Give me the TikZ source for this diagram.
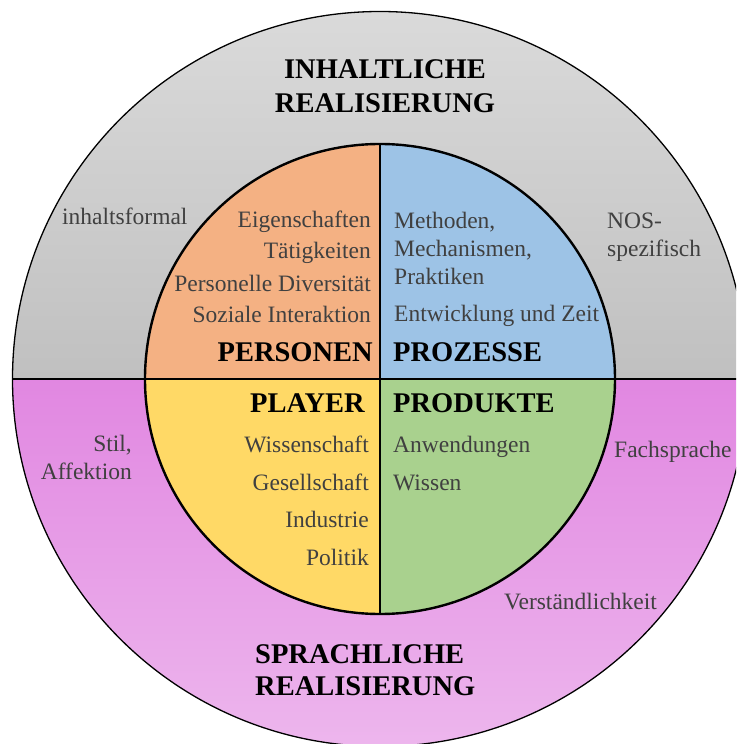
\documentclass[tikz,border=0pt]{standalone}
\usepackage{fontspec}
\setmainfont{Liberation Serif}
\usepackage{xcolor}
\definecolor{greytop}{RGB}{218, 218, 218}
\definecolor{greymid}{RGB}{192, 192, 192}
\definecolor{pinkmid}{RGB}{225, 135, 225}
\definecolor{pinkbot}{RGB}{237, 182, 237}
\definecolor{persfill}{RGB}{244, 177, 131}
\definecolor{prozfill}{RGB}{157, 195, 230}
\definecolor{playfill}{RGB}{255, 217, 102}
\definecolor{prodfill}{RGB}{169, 209, 142}
\definecolor{itemgrey}{RGB}{64, 64, 64}
\usetikzlibrary{positioning}
\tikzset{
  ringtitle/.style={font=\fontsize{28.5}{34}\selectfont\bfseries,
    text=black, inner sep=0pt},
  quadtitle/.style={font=\fontsize{28.5}{33}\selectfont\bfseries,
    text=black, inner sep=0pt},
  itemtext/.style={font=\fontsize{23.5}{28}\selectfont,
    text=itemgrey, inner sep=0pt},
  divline/.style={line width=2.4pt, black},
  ringline/.style={line width=1.3pt, black}
}

\begin{document}
\begin{tikzpicture}[x=1pt, y=1pt]
  \useasboundingbox (-380,-365) rectangle (356,379);

  \begin{scope}
    \clip (-380,-365) rectangle (356,379);
    % outer ring, two halves
    \shade[top color=greytop, bottom color=greymid]
      (-367.5,0) arc[start angle=180, end angle=0, radius=367.5] -- cycle;
    \shade[top color=pinkmid, bottom color=pinkbot]
      (-367.5,0) arc[start angle=180, end angle=360, radius=367.5] -- cycle;
    \draw[ringline] (0,0) circle[radius=367.5];
    \draw[divline] (-367.5,0) -- (367.5,0);
  \end{scope}

  % inner circle, four quadrants
  \fill[persfill] (0,0) -- (-235,0) arc[start angle=180, end angle=90, radius=235] -- cycle;
  \fill[prozfill] (0,0) -- (0,235) arc[start angle=90, end angle=0, radius=235] -- cycle;
  \fill[prodfill] (0,0) -- (235,0) arc[start angle=0, end angle=-90, radius=235] -- cycle;
  \fill[playfill] (0,0) -- (0,-235) arc[start angle=270, end angle=180, radius=235] -- cycle;
  \draw[divline] (-235,0) -- (235,0);
  \draw[divline] (0,235) -- (0,-235);
  \draw[divline] (0,0) circle[radius=235];

  % ring labels (base = last line)
  \node[ringtitle, align=center, anchor=base] (inhalt) at (5,266)
    {INHALTLICHE\\REALISIERUNG};
  \node[ringtitle, align=left, anchor=base west] (sprache) at (-125,-316)
    {SPRACHLICHE\\[-2pt]REALISIERUNG};
  \node[itemtext, anchor=base west] (formal) at (-318,154) {inhaltsformal};
  \node[itemtext, align=left, anchor=base west] (nos) at (227,122)
    {NOS-\\spezifisch};
  \node[itemtext, align=right, anchor=base east] (stil) at (-248,-100)
    {Stil,\\Affektion};
  \node[itemtext, anchor=base west] (fach) at (234,-78) {Fachsprache};
  \node[itemtext, anchor=base west] (verst) at (124,-230) {Verständlichkeit};

  % quadrants
  \node[itemtext, align=right, anchor=base east] (persitems) at (-9,56)
    {Eigenschaften\\[3pt]Tätigkeiten\\[4pt]Personelle Diversität\\[4pt]Soziale Interaktion};
  \node[quadtitle, anchor=base east] (personen) at (-7,17) {PERSONEN};
  \node[itemtext, align=left, anchor=base west] (prozitems) at (14,57)
    {Methoden,\\Mechanismen,\\Praktiken\\[9pt]Entwicklung und Zeit};
  \node[quadtitle, anchor=base west] (prozesse) at (13,17) {PROZESSE};
  \node[quadtitle, anchor=base east] (player) at (-15,-33) {PLAYER};
  \node[itemtext, align=right, anchor=base east] (playitems) at (-11,-186)
    {Wissenschaft\\[10pt]Gesellschaft\\[9pt]Industrie\\[10pt]Politik};
  \node[quadtitle, anchor=base west] (produkte) at (13,-33) {PRODUKTE};
  \node[itemtext, align=left, anchor=base west] (proditems) at (13,-111)
    {Anwendungen\\[10pt]Wissen};
\end{tikzpicture}
\end{document}
